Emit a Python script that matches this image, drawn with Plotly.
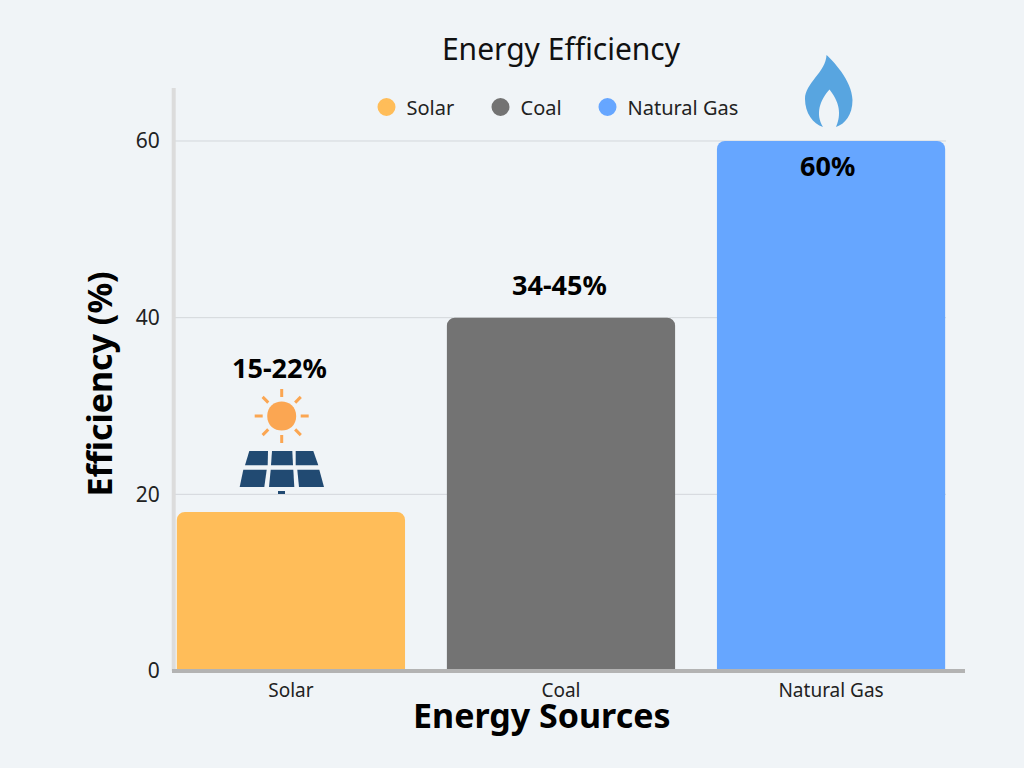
import math
import plotly.graph_objects as go

# chart values
sources = ["Solar", "Coal", "Natural Gas"]
efficiency = [18, 40, 60]
bar_colors = ["#FFBD59", "#737373", "#66A6FF"]
value_labels = ["15-22%", "34-45%", "60%"]
label_heights = [34.4, 43.7, 57.2]
label_shifts = [-11, -1.5, -4]
y_ticks = [0, 20, 40, 60]
grid_lines = [20, 40, 60]

BG = "#F0F4F7"
FONT = "Noto Sans"
WIDTH, HEIGHT = 1024, 768
LEFT, RIGHT, TOP, BOTTOM = 174, 965, 88, 671


def px_x(v):
    return (v - LEFT) / (RIGHT - LEFT)


def px_y(v):
    return (BOTTOM - v) / (BOTTOM - TOP)


def to_paper(path):
    # icon paths are sketched in page pixels, shapes want paper coordinates
    out, is_x = [], True
    for tok in path.split():
        if tok.isalpha():
            out.append(tok)
            continue
        out.append(f"{px_x(float(tok)) if is_x else px_y(float(tok)):.5f}")
        is_x = not is_x
    return " ".join(out)


def icon(path, color):
    return dict(type="path", xref="paper", yref="paper", path=to_paper(path),
                fillcolor=color, line=dict(width=0), layer="above")


fig = go.Figure()

fig.add_trace(go.Bar(x=sources, y=efficiency, width=0.845, marker=dict(color=bar_colors, line=dict(width=0)),
                     showlegend=False))

# one small legend per entry, the gaps between entries are uneven
legend_lefts = [366.5, 480.5, 587.5]
legends = {}
for i, (name, color, left) in enumerate(zip(sources, bar_colors, legend_lefts)):
    key = "legend" if i == 0 else f"legend{i + 1}"
    fig.add_trace(go.Scatter(x=[None], y=[None], mode="markers", name=name, legend=key,
                             marker=dict(color=color, size=14, symbol="circle",
                                         line=dict(color=color, width=4))))
    legends[key] = dict(x=px_x(left), xanchor="left", y=px_y(107), yanchor="middle",
                        font=dict(family=FONT, size=20, color="#222222"),
                        itemsizing="trace", bgcolor="rgba(0,0,0,0)")

for name, label, h, shift in zip(sources, value_labels, label_heights, label_shifts):
    fig.add_annotation(x=name, y=h, text=f"<b>{label}</b>", showarrow=False, xshift=shift,
                       font=dict(family=FONT, size=27, color="#000000"))

# axis titles sit off centre in the original
fig.add_annotation(xref="paper", yref="paper", x=px_x(542), y=px_y(715), xanchor="center", yanchor="middle",
                   text="<b>Energy Sources</b>", showarrow=False,
                   font=dict(family=FONT, size=34, color="#000000"))
fig.add_annotation(xref="paper", yref="paper", x=px_x(98), y=px_y(384.5), xanchor="center", yanchor="middle",
                   text="<b>Efficiency (%)</b>", textangle=-90, showarrow=False,
                   font=dict(family=FONT, size=34, color="#000000"))

shapes = []

# gridlines stop at the right edge of the last bar
for v in grid_lines:
    shapes.append(dict(type="line", xref="paper", yref="y", x0=0, x1=px_x(946), y0=v, y1=v,
                       line=dict(color="#D3D7DB", width=1), layer="below"))

# axis lines
shapes.append(dict(type="line", xref="paper", yref="paper", x0=px_x(173.7), x1=px_x(173.7), y0=0, y1=1,
                   line=dict(color="#DCDCDC", width=4), layer="above"))
shapes.append(dict(type="line", xref="paper", yref="paper", x0=px_x(172), x1=1, y0=0, y1=0,
                   line=dict(color="#B3B3B3", width=4), layer="above"))

# flame
shapes.append(icon("M 826.5 55 C 832 60 852 80 852.5 100 C 852.5 115 845 124 836 127 "
                   "C 840 118 842 105 829.5 89.5 C 820 100 815 114 823 127 "
                   "C 813 124 805 113 805 99 C 805 83 826 72 826.5 55 Z", "#58A5E0"))

# sun
cx, cy = 281.7, 416
r = 14.5
shapes.append(icon(f"M {cx - r} {cy} C {cx - r} {cy - r * 1.34} {cx + r} {cy - r * 1.34} {cx + r} {cy} "
                   f"C {cx + r} {cy + r * 1.34} {cx - r} {cy + r * 1.34} {cx - r} {cy} Z", "#FBA652"))
for k in range(8):
    a = math.radians(45 * k)
    shapes.append(dict(type="line", xref="paper", yref="paper", layer="above",
                       x0=px_x(cx + 19 * math.cos(a)), x1=px_x(cx + 27 * math.cos(a)),
                       y0=px_y(cy - 19 * math.sin(a)), y1=px_y(cy - 27 * math.sin(a)),
                       line=dict(color="#FBA652", width=3)))

# solar panel cells
for cell in ["M 249.3 451 L 268 451 L 267.7 465.3 L 245 465.3 Z",
             "M 272 451 L 292.3 451 L 293 465.3 L 271 465.3 Z",
             "M 295.7 451 L 313.3 451 L 318.3 465.3 L 295.7 465.3 Z",
             "M 243.3 469.7 L 266.7 469.7 L 264.3 487 L 239.7 487 Z",
             "M 270.7 469.7 L 293.3 469.7 L 294.3 487 L 269 487 Z",
             "M 297.3 469.7 L 319.3 469.7 L 324 487 L 299 487 Z",
             "M 278 491 L 285 491 L 285 494 L 278 494 Z"]:
    shapes.append(icon(cell, "#214A72"))

fig.update_layout(
    width=WIDTH,
    height=HEIGHT,
    margin=dict(l=LEFT, r=WIDTH - RIGHT, t=TOP, b=HEIGHT - BOTTOM, autoexpand=False),
    paper_bgcolor=BG,
    plot_bgcolor=BG,
    barcornerradius=8,
    font=dict(family=FONT, color="#1A1A1A"),
    title=dict(text="Energy Efficiency", x=561 / WIDTH, xanchor="center", y=0.936, yanchor="middle",
               font=dict(family=FONT, size=30, color="#111111")),
    shapes=shapes,
    xaxis=dict(categoryorder="array", categoryarray=sources, range=[-0.433, 2.496],
               showgrid=False, zeroline=False, showline=False,
               ticks="outside", ticklen=2, tickcolor="rgba(0,0,0,0)",
               tickfont=dict(family=FONT, size=19, color="#222222")),
    yaxis=dict(range=[0, 66], tickvals=y_ticks, showgrid=False, zeroline=False, showline=False,
               ticks="outside", ticklen=9, tickcolor="rgba(0,0,0,0)",
               tickfont=dict(family=FONT, size=21, color="#222222")),
    **legends,
)

fig.write_html("out.html", config={"displayModeBar": False},
               post_script="document.body.style.margin='0';")
